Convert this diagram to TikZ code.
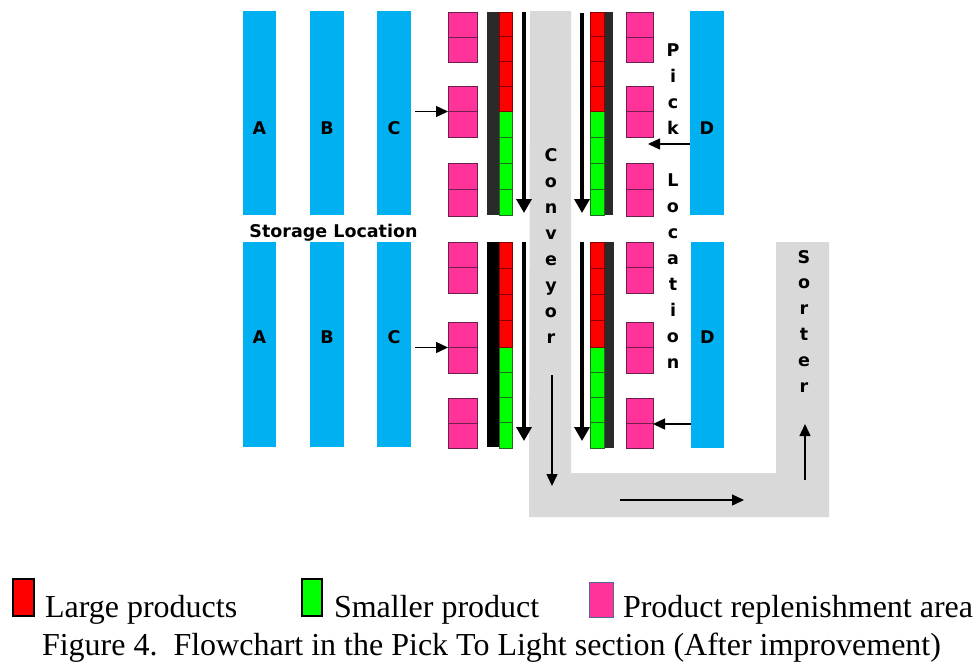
\documentclass[tikz,border=0pt]{standalone}
\usepackage{fontspec}
\setmainfont{Liberation Serif}
\newfontfamily\labfont{DejaVu Sans Bold}
\usetikzlibrary{arrows.meta}
\definecolor{bluebar}{HTML}{00B0F0}
\definecolor{pinkbox}{HTML}{FF3399}
\definecolor{pinkedge}{HTML}{6A1F4C}
\definecolor{convgrey}{HTML}{D9D9D9}
\definecolor{darkbar}{HTML}{2A2A2A}
\definecolor{rededge}{HTML}{8A0000}
\definecolor{greenedge}{HTML}{1F6A1F}
\definecolor{legpink}{HTML}{4F6A94}
\newcommand\rbox[6]{\node[#1, minimum width={(#5-#3)*1pt}, minimum height={(#6-#4)*1pt}] (#2) at ({(#3+#5)/2},{(#4+#6)/2}) {};}
\begin{document}
\begin{tikzpicture}[x=1pt,y=-1pt,
  every node/.style={inner sep=0pt, outer sep=0pt},
  rackbar/.style={fill=bluebar},
  pinkcell/.style={fill=pinkbox, draw=pinkedge, line width=0.9pt},
  darkcol/.style={fill=darkbar},
  blackcol/.style={fill=black},
  lab/.style={font=\labfont\fontsize{17.5}{17.5}\selectfont},
  vlab/.style={lab, anchor=base},
  bigarrow/.style={line width=3.4pt, -{Triangle[length=14pt,width=15pt]}},
  smallarrow/.style={line width=1.4pt, -{Triangle[length=12pt,width=11pt]}},
  legtext/.style={anchor=base west, font=\fontsize{32}{32}\selectfont}
]
\useasboundingbox (0,0) rectangle (976,662);

% conveyor and sorter
\fill[convgrey] (530,11) -- (571,11) -- (571,473) -- (776,473) -- (776,242)
  -- (829,242) -- (829,517) -- (529,517) -- cycle;

% storage racks
\rbox{rackbar}{a1}{243}{11}{276}{215}
\rbox{rackbar}{b1}{310}{11}{344}{215}
\rbox{rackbar}{c1}{377}{11}{411}{215}
\rbox{rackbar}{a2}{243}{242}{276}{447}
\rbox{rackbar}{b2}{310}{242}{344}{447}
\rbox{rackbar}{c2}{377}{242}{411}{447}
\rbox{rackbar}{d1}{690}{11}{724}{215}
\rbox{rackbar}{d2}{691}{242}{724}{448}
\foreach \n/\t in {a1/A,b1/B,c1/C,d1/D}
  \node[lab] (l\n) at (\n |- 0,128) {\t};
\foreach \n/\t in {a2/A,b2/B,c2/C,d2/D}
  \node[lab] (l\n) at (\n |- 0,337) {\t};
\node[lab, anchor=base] (storage) at (333.5,237) {Storage Location};

% pink replenishment boxes
\foreach \x/\xx/\s in {448/477/L,626/653/R}{
  \rbox{pinkcell}{p\s1}{\x}{12}{\xx}{62}
  \rbox{pinkcell}{p\s2}{\x}{86}{\xx}{137}
  \rbox{pinkcell}{p\s3}{\x}{163}{\xx}{216}
  \rbox{pinkcell}{p\s4}{\x}{242}{\xx}{293}
  \rbox{pinkcell}{p\s5}{\x}{322}{\xx}{373}
  \rbox{pinkcell}{p\s6}{\x}{398}{\xx}{448}
}
\foreach \i in {1,...,6}{
  \draw[pinkedge, line width=0.9pt] (pL\i.west) -- (pL\i.east);
  \draw[pinkedge, line width=0.9pt] (pR\i.west) -- (pR\i.east);
}

% pick-to-light columns: dark rails
\rbox{darkcol}{railL1}{487}{12}{499}{215}
\rbox{blackcol}{railL2}{487}{242}{499}{447}
\rbox{darkcol}{railR1}{604}{12}{613}{215}
\rbox{darkcol}{railR2}{604}{242}{614}{448}

% light cells
\foreach \xa/\xb in {499/512,590/604}{
  \foreach \k in {0,...,3}{
    \filldraw[fill=red, draw=rededge, line width=0.7pt]
      (\xa,{12+\k*24.75}) rectangle (\xb,{12+(\k+1)*24.75});
    \filldraw[fill=green, draw=greenedge, line width=0.7pt]
      (\xa,{111+\k*26}) rectangle (\xb,{111+(\k+1)*26});
    \filldraw[fill=red, draw=rededge, line width=0.7pt]
      (\xa,{242+\k*26.25}) rectangle (\xb,{242+(\k+1)*26.25});
    \filldraw[fill=green, draw=greenedge, line width=0.7pt]
      (\xa,{347+\k*25.25}) rectangle (\xb,{347+(\k+1)*25.25});
  }
}

% picking direction arrows
\coordinate (u1s) at (524,12);  \coordinate (u1e) at (524,213);
\coordinate (u2s) at (582,13);  \coordinate (u2e) at (582,213);
\coordinate (w1s) at (524,242); \coordinate (w1e) at (524,441);
\coordinate (w2s) at (582,242); \coordinate (w2e) at (582,441);
\draw[bigarrow] (u1s) -- (u1e);
\draw[bigarrow] (u2s) -- (u2e);
\draw[bigarrow] (w1s) -- (w1e);
\draw[bigarrow] (w2s) -- (w2e);

% replenishment arrows
\draw[smallarrow, shorten <=4pt] (c1.east |- pL2.west) -- (pL2.west);
\draw[smallarrow, shorten <=4pt] (c2.east |- pL5.west) -- (pL5.west);
\coordinate (dtip) at (648,144);
\draw[smallarrow] (d1.west |- dtip) -- (dtip);
\draw[smallarrow] (d2.west |- 0,424) -- (pR6.east |- 0,424);

% conveyor flow arrows
\coordinate (f1) at (552,375); \coordinate (f2) at (552,486);
\coordinate (f3) at (620,500); \coordinate (f4) at (744,500);
\coordinate (f5) at (805,480); \coordinate (f6) at (805,424);
\draw[smallarrow] (f1) -- (f2);
\draw[smallarrow] (f3) -- (f4);
\draw[smallarrow] (f5) -- (f6);

% vertical labels
\foreach \l [count=\i] in {C,o,n,v,e,y,o,r}
  \node[vlab] (conv\i) at (551,{161+(\i-1)*26}) {\l};
\foreach \l [count=\i] in {P,i,c,k,{},L,o,c,a,t,i,o,n}
  \node[vlab] (pick\i) at (673,{56+(\i-1)*26}) {\l};
\foreach \l [count=\i] in {S,o,r,t,e,r}
  \node[vlab] (sort\i) at (804,{263+(\i-1)*25.8}) {\l};

% legend
\filldraw[fill=red, draw=black, line width=2pt] (13,579) rectangle (34,616);
\node (legred) at (23.5,597.5) {};
\node[legtext] (t1) at (45,617) {Large products};
\filldraw[fill=green, draw=black, line width=2pt] (302,579) rectangle (322,616);
\node (leggreen) at (312,597.5) {};
\node[legtext] (t2) at (334,617) {Smaller product};
\filldraw[fill=pinkbox, draw=legpink, line width=1pt] (589,582) rectangle (613,617);
\node (legpinkbox) at (601,599.5) {};
\node[legtext] (t3) at (623,617) {Product replenishment area};
\node[legtext] (cap) at (42,655) {Figure 4.\ \ Flowchart in the Pick To Light section (After improvement)};
\end{tikzpicture}
\end{document}
